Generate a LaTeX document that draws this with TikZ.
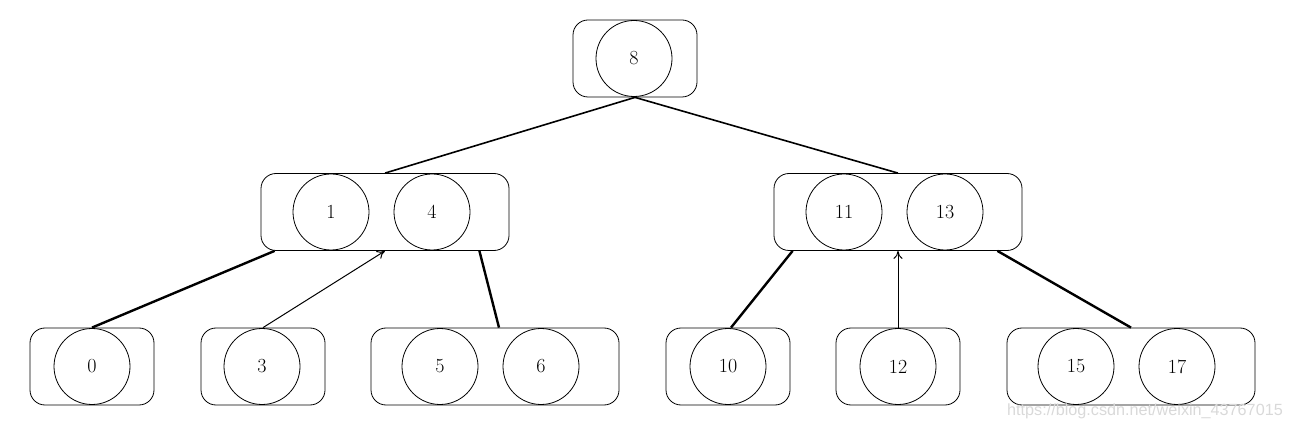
\documentclass[tikz,border=0pt]{standalone}
\usepackage{fontspec}
\newfontfamily\wmfont{Liberation Sans}
\usetikzlibrary{arrows.meta}
\begin{document}
\begin{tikzpicture}[x=1pt,y=-1pt,
  keybox/.style={draw,rounded corners=15pt,line width=0.8pt,minimum height=77pt,inner sep=0pt},
  onebox/.style={keybox,minimum width=124pt},
  twobox/.style={keybox,minimum width=248pt},
  keyc/.style={draw,circle,line width=0.8pt,minimum size=76pt,inner sep=0pt,font=\fontsize{20}{23}\selectfont},
  upper/.style={line width=1.6pt},
  thick link/.style={line width=2.4pt},
  thin link/.style={line width=1pt,-{To[length=8pt,width=9pt]}}]
\useasboundingbox (0,0) rectangle (1315,430);
% root
\node[onebox] (r) at (635,58.5) {};
\node[keyc] (c8) at (634,58.5) {8};
% middle
\node[twobox] (ml) at (385,212) {};
\node[keyc] (c1) at (331,212) {1};
\node[keyc] (c4) at (432,212) {4};
\node[twobox] (mr) at (898,212) {};
\node[keyc] (c11) at (844,212) {11};
\node[keyc] (c13) at (945,212) {13};
% bottom
\node[onebox] (b0) at (92,366.5) {};
\node[keyc] (c0) at (92,366.5) {0};
\node[onebox] (b3) at (263,366.5) {};
\node[keyc] (c3) at (262,366.5) {3};
\node[twobox] (b56) at (495,366.5) {};
\node[keyc] (c5) at (440,366.5) {5};
\node[keyc] (c6) at (541,366.5) {6};
\node[onebox] (b10) at (728,366.5) {};
\node[keyc] (c10) at (728,366.5) {10};
\node[onebox] (b12) at (898,366.5) {};
\node[keyc] (c12) at (898,366.5) {12};
\node[twobox] (b1517) at (1131,366.5) {};
\node[keyc] (c15) at (1076,366.5) {15};
\node[keyc] (c17) at (1177,366.5) {17};
% connectors
\draw[upper] (r.south) -- (ml.north);
\draw[upper] (r.south) -- (mr.north);
\draw[thick link] ([xshift=14pt]ml.south west) -- (b0.north);
\draw[thin link] (b3.north) -- (ml.south);
\draw[thick link] ([xshift=-30pt]ml.south east) -- ([xshift=4pt]b56.north);
\draw[thick link] ([xshift=19pt]mr.south west) -- ([xshift=3pt]b10.north);
\draw[thin link] (b12.north) -- (mr.south);
\draw[thick link] ([xshift=-25pt]mr.south east) -- (b1517.north);
% watermark
\node[anchor=east,text=black!15,font=\wmfont\fontsize{16.2}{18}\selectfont,inner sep=0pt] (wm) at (1283,411) {https://blog.csdn.net/weixin\_43767015};
\end{tikzpicture}
\end{document}
